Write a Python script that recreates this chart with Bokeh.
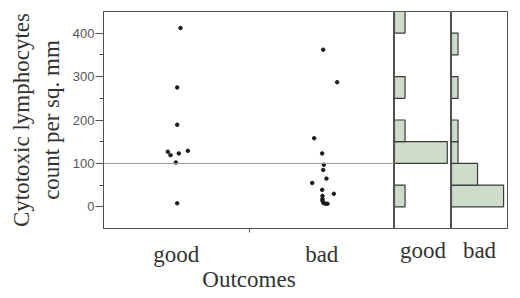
import numpy as np
from bokeh.plotting import figure
from bokeh.layouts import row
from bokeh.models import Range1d, FixedTicker, Span
from bokeh.embed import file_html
from bokeh.resources import INLINE

# ---- data ----
categories = ["good", "bad"]
cat_pos = [1, 3]

good_x = [1.058, 1.013, 1.013, 0.884, 0.921, 1.035, 1.159, 0.994, 1.013]
good_y = [412, 275, 189, 127, 119, 123, 129, 102, 8]

bad_x = [3.020, 3.212, 2.896, 3.006, 3.028, 3.020, 3.065, 2.869, 3.006, 3.166,
         3.010, 3.010, 3.010, 3.024, 3.052, 3.079]
bad_y = [362, 287, 158, 123, 97, 85, 65, 55, 39, 30, 25, 18, 14, 9, 7, 7]

threshold = 100
bin_edges = [0, 50, 100, 150, 200, 250, 300, 350, 400, 450]
y_ticks = [0, 100, 200, 300, 400]
y_minor = [50, 150, 250, 350]

SERIF = "Liberation Serif"
SANS = "Liberation Sans"
FRAME = "#505050"
BAR_FILL = "#cfdcca"
TXT = "#333333"
FS = "23px"

yr = Range1d(-50, 450)

def base_fig(width, left, right):
    f = figure(width=width, height=296, y_range=yr, output_backend="svg",
               toolbar_location=None, min_border_left=left, min_border_right=right,
               min_border_top=11, min_border_bottom=68)
    f.grid.visible = False
    f.outline_line_color = FRAME
    f.outline_line_width = 1
    f.background_fill_color = "white"
    f.border_fill_color = "white"
    return f

# ---- main strip plot ----
p = base_fig(394, 103, 0)
p.x_range = Range1d(0, 4)
p.scatter(good_x, good_y, size=3.5, color="#1a1a1a")
p.scatter(bad_x, bad_y, size=3.5, color="#1a1a1a")
p.add_layout(Span(location=threshold, dimension="width", line_color="#9a9a9a", line_width=1))

xa = p.xaxis[0]
xa.ticker = FixedTicker(ticks=cat_pos, minor_ticks=[2])
xa.major_label_overrides = {cat_pos[0]: categories[0], cat_pos[1]: categories[1]}
xa.major_tick_out = 0
xa.major_tick_in = 0
xa.minor_tick_out = 4
xa.minor_tick_in = 0
xa.axis_line_color = FRAME
xa.minor_tick_line_color = FRAME
xa.major_label_text_font = SERIF
xa.major_label_text_font_size = FS
xa.major_label_text_color = TXT
xa.major_label_standoff = 9
xa.axis_label = "Outcomes"
xa.axis_label_text_font = SERIF
xa.axis_label_text_font_size = FS
xa.axis_label_text_font_style = "normal"
xa.axis_label_text_color = TXT
xa.axis_label_standoff = -3

ya = p.yaxis[0]
ya.ticker = FixedTicker(ticks=y_ticks, minor_ticks=y_minor)
ya.major_tick_out = 8
ya.major_tick_in = 0
ya.minor_tick_out = 4
ya.minor_tick_in = 0
ya.axis_line_color = FRAME
ya.major_tick_line_color = FRAME
ya.minor_tick_line_color = FRAME
ya.major_label_text_font = SANS
ya.major_label_text_font_size = "13px"
ya.major_label_text_color = "#555555"
ya.major_label_standoff = 1
ya.axis_label = "Cytotoxic lymphocytes\ncount per sq. mm"
ya.axis_label_text_font = SERIF
ya.axis_label_text_font_size = FS
ya.axis_label_text_font_style = "normal"
ya.axis_label_text_color = TXT
ya.axis_label_standoff = 6

# ---- histograms ----
def hist_fig(width, right, vals, xmax, label):
    counts, _ = np.histogram(vals, bins=bin_edges)
    f = base_fig(width, 0, right)
    f.x_range = Range1d(0, xmax)
    f.yaxis.visible = False
    bottoms = [bin_edges[i] for i in range(len(counts)) if counts[i] > 0]
    tops = [bin_edges[i + 1] for i in range(len(counts)) if counts[i] > 0]
    rights = [int(c) for c in counts if c > 0]
    f.quad(left=0, right=rights, bottom=bottoms, top=tops,
           fill_color=BAR_FILL, line_color="#3a3a3a", line_width=1.2)
    ax = f.xaxis[0]
    ax.ticker = FixedTicker(ticks=[xmax / 2], minor_ticks=[])
    ax.major_label_overrides = {xmax / 2: label}
    ax.major_tick_out = 0
    ax.major_tick_in = 0
    ax.axis_line_color = FRAME
    ax.major_label_text_font = SERIF
    ax.major_label_text_font_size = FS
    ax.major_label_text_color = TXT
    ax.major_label_standoff = 9
    return f

hg = hist_fig(57, 0, good_y, 5.4, categories[0])
hb = hist_fig(61, 5, bad_y, 8.6, categories[1])

layout = row(p, hg, hb)
open("out.html", "w").write(file_html(layout, INLINE))
